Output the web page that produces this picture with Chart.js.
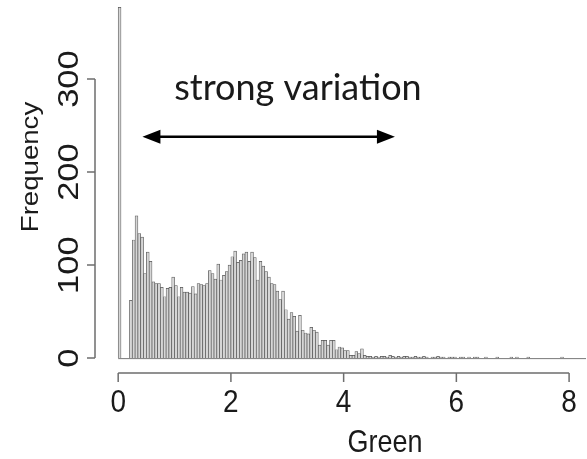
<!DOCTYPE html>
<html>
<head>
<meta charset="utf-8">
<script src="https://cdn.jsdelivr.net/npm/chart.js@4.4.1/dist/chart.umd.min.js"></script>
<style>
  html, body { margin: 0; padding: 0; background: #fff; }
  #wrap { width: 587px; height: 459px; }
</style>
</head>
<body>
<div id="wrap"><canvas id="hist" width="587" height="459"></canvas></div>
<script>
// Histogram of "Green", bins of 0.05 starting at 0
const BIN_WIDTH = 0.05;
const counts = [
    377, 0, 0, 0,
    62, 127, 153, 134, 130, 91, 114, 104, 82, 80, 80, 76, 66, 75, 76, 87, 78, 66, 76, 71, 71, 70, 77, 69, 80,
    79, 78, 80, 94, 91, 85, 101, 84, 89, 93, 100, 109, 115, 103, 105, 112,
    114, 104, 114, 108, 84, 104, 99, 93, 87, 80, 79, 72, 63, 72, 52, 42, 49, 45, 29, 46, 30, 27, 26, 33, 30,
    28, 14, 19, 19, 14, 19, 19, 9, 12, 11, 8, 8, 3, 3, 7, 5, 10, 3, 2, 2, 1, 2,
    1, 2, 2, 1, 3, 2, 1, 2, 1, 2,
    2, 1, 1, 2, 1, 1, 2, 1, 0, 1,
    1, 2, 1, 1, 0, 1, 1, 1, 0, 1,
    1, 0, 1, 0, 1, 1, 0, 0, 1, 0,
    0, 0, 1, 0, 0, 0, 0, 1, 0, 1,
    0, 0, 0, 1, 0, 0, 0, 0, 0, 0,
    0, 0, 0, 0, 0, 1, 0, 0,
    0, 0, 0, 0, 0, 0
];
const xTicks = [0, 2, 4, 6, 8];
const yTicks = [0, 100, 200, 300];
const xTitle = 'Green';
const yTitle = 'Frequency';
const noteText = 'strong variation';

// annotation placement in data units
const NOTE_X = 3.19, NOTE_Y = 277;
const ARROW_FROM = 0.43, ARROW_TO = 4.91, ARROW_Y = 238;

const COLORS = {
    barFill: '#d6d6d6',
    barBorder: '#555555',
    axis: '#6e6e6e',
    text: '#1a1a1a'
};

const STRETCH = 1.15; // text in the reference is a bit taller than wide

function stretchedText(ctx, str, x, y, rotate) {
    ctx.save();
    ctx.translate(x, y);
    ctx.scale(1, STRETCH);
    if (rotate) ctx.rotate(-Math.PI / 2);
    ctx.fillText(str, 0, 0);
    ctx.restore();
}

const rAxes = {
    id: 'rAxes',
    beforeDatasetsDraw(chart) {
        const { ctx, scales: { x, y } } = chart;
        // zero-count bins still leave a baseline, like R's rect()
        ctx.save();
        ctx.strokeStyle = COLORS.barBorder;
        ctx.lineWidth = 0.8;
        ctx.beginPath();
        ctx.moveTo(x.getPixelForValue(0), y.getPixelForValue(0) + 0.5);
        ctx.lineTo(x.getPixelForValue(counts.length * BIN_WIDTH), y.getPixelForValue(0) + 0.5);
        ctx.stroke();
        ctx.restore();
    },
    afterDraw(chart) {
        const { ctx, scales: { x, y } } = chart;
        ctx.save();
        ctx.strokeStyle = COLORS.axis;
        ctx.lineWidth = 1.5;

        // x axis, offset below the bars
        const axY = 373;
        ctx.beginPath();
        ctx.moveTo(x.getPixelForValue(xTicks[0]), axY);
        ctx.lineTo(x.getPixelForValue(xTicks[xTicks.length - 1]), axY);
        xTicks.forEach(t => {
            const px = x.getPixelForValue(t);
            ctx.moveTo(px, axY);
            ctx.lineTo(px, axY + 9);
        });
        ctx.stroke();

        // y axis, offset left
        const axX = 95;
        ctx.beginPath();
        ctx.moveTo(axX, y.getPixelForValue(yTicks[0]));
        ctx.lineTo(axX, y.getPixelForValue(yTicks[yTicks.length - 1]));
        yTicks.forEach(t => {
            const py = y.getPixelForValue(t);
            ctx.moveTo(axX, py);
            ctx.lineTo(axX - 8, py);
        });
        ctx.stroke();

        ctx.fillStyle = COLORS.text;
        ctx.textAlign = 'center';
        ctx.textBaseline = 'alphabetic';
        ctx.font = '28px "Liberation Sans", Arial, sans-serif';
        xTicks.forEach(t => stretchedText(ctx, String(t), x.getPixelForValue(t), 412, false));
        ctx.font = '27px "Liberation Sans", Arial, sans-serif';
        stretchedText(ctx, xTitle, 385, 452, false);

        ctx.font = '30px "Liberation Sans", Arial, sans-serif';
        yTicks.forEach(t => stretchedText(ctx, String(t), 78, y.getPixelForValue(t), true));

        ctx.font = '24px "Liberation Sans", Arial, sans-serif';
        stretchedText(ctx, yTitle, 38, 167, true);

        // annotation: label and double arrow
        ctx.font = '36px Lato, "Open Sans", sans-serif';
        ctx.fillText(noteText, x.getPixelForValue(NOTE_X), y.getPixelForValue(NOTE_Y));

        const ax1 = x.getPixelForValue(ARROW_FROM);
        const ax2 = x.getPixelForValue(ARROW_TO);
        const ay = y.getPixelForValue(ARROW_Y);
        const head = 18, half = 7;
        ctx.strokeStyle = '#000';
        ctx.fillStyle = '#000';
        ctx.lineWidth = 2.5;
        ctx.beginPath();
        ctx.moveTo(ax1 + head - 2, ay);
        ctx.lineTo(ax2 - head + 2, ay);
        ctx.stroke();
        ctx.beginPath();
        ctx.moveTo(ax1, ay);
        ctx.lineTo(ax1 + head, ay - half);
        ctx.lineTo(ax1 + head, ay + half);
        ctx.closePath();
        ctx.moveTo(ax2, ay);
        ctx.lineTo(ax2 - head, ay - half);
        ctx.lineTo(ax2 - head, ay + half);
        ctx.closePath();
        ctx.fill();
        ctx.restore();
    }
};

new Chart(document.getElementById('hist'), {
    type: 'bar',
    data: {
        datasets: [{
            data: counts.map((c, i) => ({ x: i * BIN_WIDTH + BIN_WIDTH / 2, y: c })),
            backgroundColor: COLORS.barFill,
            borderColor: COLORS.barBorder,
            borderWidth: 0.7,
            borderSkipped: 'start',
            barPercentage: 1,
            categoryPercentage: 1
        }]
    },
    options: {
        responsive: false,
        animation: false,
        devicePixelRatio: 1,
        layout: { padding: { left: 90, right: 1, top: 0, bottom: 86 } },
        plugins: {
            legend: { display: false },
            tooltip: { enabled: false }
        },
        scales: {
            x: { type: 'linear', min: -0.5, max: 8.3, display: false, offset: false },
            y: { min: -16, max: 385, display: false }
        }
    },
    plugins: [rAxes]
});
</script>
</body>
</html>
